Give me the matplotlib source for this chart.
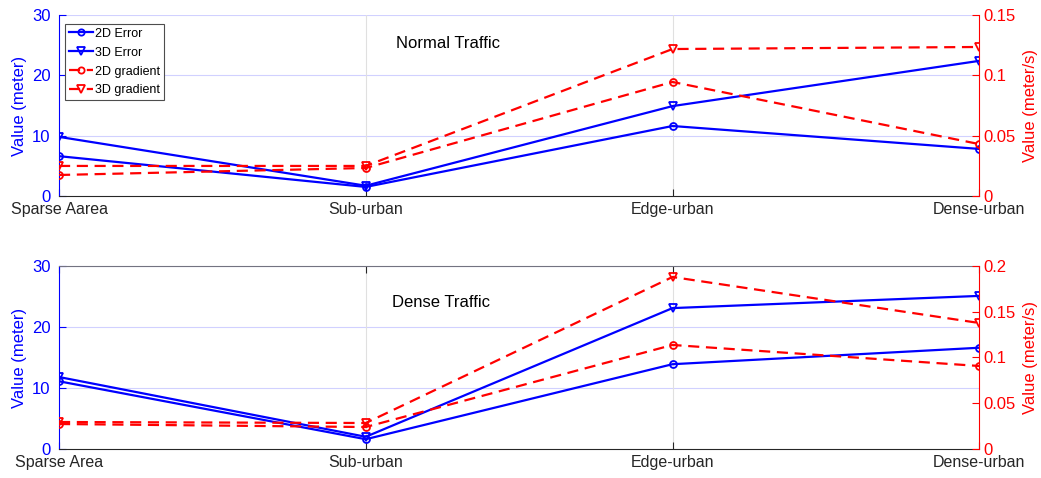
import matplotlib.pyplot as plt
import numpy as np

plt.rcParams['font.family'] = ['Liberation Sans', 'DejaVu Sans']

places_top = ['Sparse Aarea', 'Sub-urban', 'Edge-urban', 'Dense-urban']
places_bot = ['Sparse Area', 'Sub-urban', 'Edge-urban', 'Dense-urban']

# Normal traffic
err2d_normal = [6.6, 1.5, 11.6, 7.8]
err3d_normal = [9.8, 1.7, 14.9, 22.4]
grad2d_normal = [0.0174, 0.0232, 0.0945, 0.043]
grad3d_normal = [0.0249, 0.0249, 0.1218, 0.1235]

# Dense traffic
err2d_dense = [11.1, 1.6, 13.9, 16.6]
err3d_dense = [11.8, 2.0, 23.1, 25.1]
grad2d_dense = [0.0273, 0.024, 0.1137, 0.0907]
grad3d_dense = [0.0295, 0.0284, 0.188, 0.1377]

BLUE = (0, 0, 1)
RED = (1, 0, 0)
GRAY = (0.15, 0.15, 0.15)


def panel(rect, labels, e2, e3, g2, g3, rmax, rticks, rlabels, title, title_xy,
          legend=False, top_box=False):
    ax = fig.add_axes(rect)
    x = np.arange(len(labels))
    l1, = ax.plot(x, e2, '-o', color=BLUE, lw=1.6, ms=5, mfc='none', mew=1.3, label='2D Error')
    l2, = ax.plot(x, e3, '-v', color=BLUE, lw=1.6, ms=6, mfc='none', mew=1.3, label='3D Error')
    ax.set_xlim(0, len(labels) - 1)
    ax.set_ylim(0, 30)
    ax.set_yticks([0, 10, 20, 30])
    ax.set_xticks(x)
    ax.set_xticklabels(labels)
    ax.set_ylabel('Value (meter)', color=BLUE, fontsize=12, labelpad=4)
    ax.tick_params(axis='y', colors=BLUE, direction='in', labelsize=12, length=5, pad=6)
    ax.tick_params(axis='x', colors=GRAY, direction='in', labelsize=11.5, length=5, pad=4,
                   top=top_box)
    # grids: horizontal light blue, vertical light gray
    for v in [10, 20, 30]:
        ax.axhline(v, color=(0.82, 0.82, 1.0), lw=0.8, zorder=0)
    for v in x[1:-1]:
        ax.axvline(v, color=(0.88, 0.88, 0.88), lw=0.8, zorder=0)
    ax.spines['left'].set_color(BLUE)
    ax.spines['bottom'].set_color(GRAY)
    ax.spines['right'].set_visible(False)
    if top_box:
        ax.spines['top'].set_color((0.45, 0.45, 0.5))
    else:
        ax.spines['top'].set_visible(False)

    ax2 = ax.twinx()
    l3, = ax2.plot(x, g2, '--o', color=RED, lw=1.6, ms=5, mfc='none', mew=1.3, label='2D gradient',
                   dashes=(5, 3))
    l4, = ax2.plot(x, g3, '--v', color=RED, lw=1.6, ms=6, mfc='none', mew=1.3, label='3D gradient',
                   dashes=(5, 3))
    ax2.set_ylim(0, rmax)
    ax2.set_yticks(rticks)
    ax2.set_yticklabels(rlabels)
    ax2.tick_params(axis='y', colors=RED, direction='in', labelsize=12, length=5, pad=3)
    # fixed position so the label clears the widest tick label
    ax2.set_ylabel('Value (meter/s)', color=RED, fontsize=12)
    ax2.yaxis.set_label_coords(1.048, 0.5)
    ax2.spines['right'].set_color(RED)
    for s in ['left', 'top', 'bottom']:
        ax2.spines[s].set_visible(False)

    ax2.text(title_xy[0], title_xy[1], title, transform=ax2.transAxes, fontsize=12,
             ha='left', va='center', color='black')

    if legend:
        leg = ax2.legend(handles=[l1, l2, l3, l4], loc='upper left', fontsize=9,
                         fancybox=False, framealpha=1, edgecolor=(0.3, 0.3, 0.3),
                         bbox_to_anchor=(0.0065, 0.950), borderaxespad=0,
                         handlelength=1.9, borderpad=0.3, labelspacing=0.55,
                         handletextpad=0.2, markerscale=0.9)
        leg.get_frame().set_linewidth(0.8)
    return ax, ax2


fig = plt.figure(figsize=(10.41, 4.78), dpi=100)

panel([0.0567, 0.590, 0.884, 0.3786], places_top,
      err2d_normal, err3d_normal, grad2d_normal, grad3d_normal,
      0.15, [0, 0.05, 0.1, 0.15], ['0', '0.05', '0.1', '0.15'],
      'Normal Traffic', (0.366, 0.84), legend=True)

panel([0.0567, 0.0607, 0.884, 0.3828], places_bot,
      err2d_dense, err3d_dense, grad2d_dense, grad3d_dense,
      0.2, [0, 0.05, 0.1, 0.15, 0.2], ['0', '0.05', '0.1', '0.15', '0.2'],
      'Dense Traffic', (0.362, 0.80), top_box=True)

fig.savefig('out.png', dpi=100)
